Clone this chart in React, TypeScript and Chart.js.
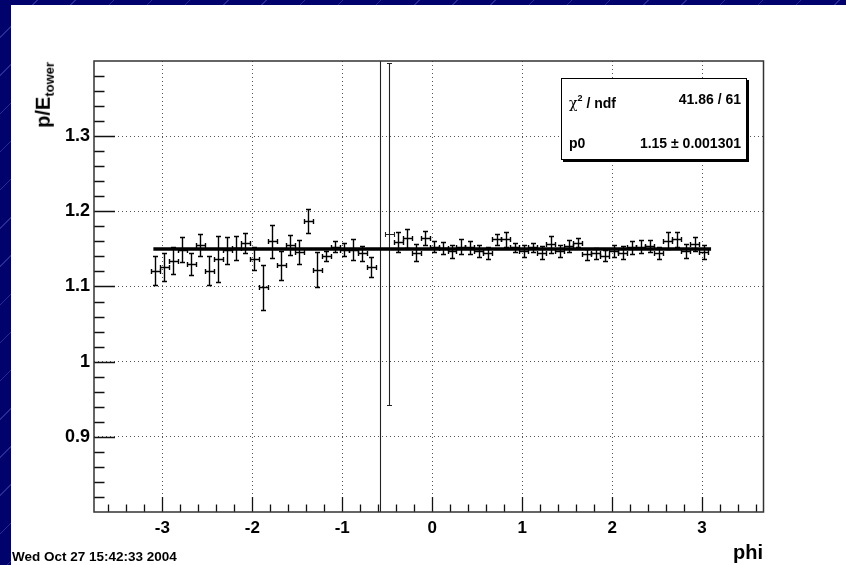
import React, { useEffect, useRef } from "react";
import { Chart, registerables } from "chart.js";

Chart.register(...registerables);

// ---------- data ----------
const phi = [
  -3.08, -2.98, -2.88, -2.78, -2.68, -2.58, -2.48, -2.38, -2.28, -2.18,
  -2.08, -1.98, -1.88, -1.78, -1.68, -1.58, -1.48, -1.38, -1.28, -1.18,
  -1.08, -0.98, -0.88, -0.78, -0.68, -0.58, -0.48, -0.38, -0.28, -0.18,
  -0.08, 0.02, 0.12, 0.22, 0.32, 0.42, 0.52, 0.62, 0.72, 0.82,
  0.92, 1.02, 1.12, 1.22, 1.32, 1.42, 1.52, 1.62, 1.72, 1.82,
  1.92, 2.02, 2.12, 2.22, 2.32, 2.42, 2.52, 2.62, 2.72, 2.82,
  2.92, 3.02,
];
const ratio = [
  1.121, 1.126, 1.134, 1.149, 1.130, 1.155, 1.121, 1.137, 1.148, 1.151,
  1.158, 1.137, 1.099, 1.160, 1.128, 1.155, 1.146, 1.187, 1.122, 1.141,
  1.153, 1.149, 1.149, 1.144, 1.126, 0.5, 1.170, 1.159, 1.164, 1.145,
  1.165, 1.153, 1.151, 1.147, 1.153, 1.152, 1.147, 1.145, 1.163, 1.163,
  1.152, 1.147, 1.152, 1.145, 1.156, 1.147, 1.154, 1.158, 1.143, 1.144,
  1.141, 1.147, 1.145, 1.152, 1.153, 1.154, 1.144, 1.161, 1.163, 1.147,
  1.156, 1.146,
];
const ratioErr = [
  0.019, 0.0186, 0.018, 0.0164, 0.0148, 0.0146, 0.019, 0.0305, 0.018, 0.016,
  0.0128, 0.015, 0.030, 0.0224, 0.019, 0.013, 0.0155, 0.0157, 0.0233, 0.0067,
  0.0076, 0.0085, 0.014, 0.010, 0.0128, 1.5, 0.227, 0.0135, 0.0123, 0.011,
  0.0092, 0.007, 0.008, 0.0085, 0.010, 0.009, 0.0083, 0.008, 0.0072, 0.010,
  0.006, 0.0078, 0.006, 0.009, 0.011, 0.0083, 0.008, 0.006, 0.0074, 0.0074,
  0.0074, 0.008, 0.0085, 0.009, 0.009, 0.008, 0.008, 0.0117, 0.010, 0.0094,
  0.0094, 0.009,
];
const binHalfWidth = 0.05;
const fitValue = 1.15;
const fitRange = [-3.1, 3.1];
const xTicks = [-3, -2, -1, 0, 1, 2, 3];
const yTicks = [0.9, 1.0, 1.1, 1.2, 1.3];
const xRange = [-3.76, 3.683];
const yRange = [0.8, 1.4];
const statsRows = [
  ["χ", " / ndf", "41.86 / 61"],
  ["p0", "", "1.15 ± 0.001301"],
];

const W = 846;
const H = 565;
const FONT = "'Liberation Sans', Arial, Helvetica, sans-serif";

const rootPlugin = {
  id: "rootStyle",
  beforeDatasetsDraw(chart: any) {
    const { ctx, chartArea: a, scales } = chart;
    const x = scales.x;
    const y = scales.y;
    ctx.save();
    ctx.beginPath();
    ctx.rect(a.left, a.top, a.right - a.left, a.bottom - a.top);
    ctx.clip();
    for (let i = 0; i < phi.length; i++) {
      const big = ratioErr[i] > 0.1;
      const px = Math.round(x.getPixelForValue(phi[i])) + 0.5;
      const py = Math.round(y.getPixelForValue(ratio[i])) + 0.5;
      const yt = Math.round(y.getPixelForValue(ratio[i] + ratioErr[i])) + 0.5;
      const yb = Math.round(y.getPixelForValue(ratio[i] - ratioErr[i])) + 0.5;
      const xl = Math.round(x.getPixelForValue(phi[i] - binHalfWidth)) + 0.5;
      const xr = Math.round(x.getPixelForValue(phi[i] + binHalfWidth)) + 0.5;
      ctx.strokeStyle = big ? "#222" : "#000";
      ctx.lineWidth = big ? 1.1 : 1.4;
      ctx.beginPath();
      ctx.moveTo(px, yt);
      ctx.lineTo(px, yb);
      ctx.moveTo(px - 2.5, yt);
      ctx.lineTo(px + 2.5, yt);
      ctx.moveTo(px - 2.5, yb);
      ctx.lineTo(px + 2.5, yb);
      ctx.moveTo(xl, py);
      ctx.lineTo(xr, py);
      ctx.moveTo(xl, py - 2.5);
      ctx.lineTo(xl, py + 2.5);
      ctx.moveTo(xr, py - 2.5);
      ctx.lineTo(xr, py + 2.5);
      ctx.stroke();
    }
    ctx.restore();
  },
  afterDraw(chart: any) {
    const { ctx, chartArea: a, scales } = chart;
    const x = scales.x;
    const y = scales.y;
    ctx.save();
    ctx.strokeStyle = "#111";
    ctx.lineWidth = 1.3;
    ctx.beginPath();
    // y ticks (inward from left frame)
    for (let k = 1; k < 30; k++) {
      const v = yRange[0] + k * 0.02;
      const major = k % 5 === 0;
      const py = Math.round(y.getPixelForValue(v)) + 0.5;
      ctx.moveTo(a.left, py);
      ctx.lineTo(a.left + (major ? 21 : 10.5), py);
    }
    // x ticks (inward from bottom frame)
    for (let k = -18; k <= 18; k++) {
      const v = k * 0.2;
      const major = k % 5 === 0;
      const px = Math.round(x.getPixelForValue(v)) + 0.5;
      ctx.moveTo(px, a.bottom);
      ctx.lineTo(px, a.bottom - (major ? 15 : 7.5));
    }
    ctx.stroke();
    ctx.strokeStyle = "#333";
    ctx.lineWidth = 1.5;
    ctx.strokeRect(a.left, a.top, a.right - a.left, a.bottom - a.top);
    ctx.restore();
  },
};

export default function App() {
  const ref = useRef<HTMLCanvasElement | null>(null);

  useEffect(() => {
    if (!ref.current) return;
    const chart = new Chart(ref.current, {
      type: "scatter",
      data: {
        datasets: [
          {
            label: "p/E",
            data: phi.map((p, i) => ({ x: p, y: ratio[i] })),
            pointRadius: 0,
            showLine: false,
          },
          {
            label: "fit",
            data: [
              { x: fitRange[0], y: fitValue },
              { x: fitRange[1], y: fitValue },
            ],
            showLine: true,
            borderColor: "#000",
            borderWidth: 3.5,
            pointRadius: 0,
          },
        ],
      },
      options: {
        animation: false,
        responsive: false,
        events: [],
        layout: { padding: { left: 0, top: 61, right: W - 763.5, bottom: 0 } },
        plugins: { legend: { display: false }, tooltip: { enabled: false } },
        scales: {
          x: {
            type: "linear",
            min: xRange[0],
            max: xRange[1],
            afterBuildTicks: (s: any) => {
              s.ticks = xTicks.map((v) => ({ value: v }));
            },
            afterFit: (s: any) => {
              s.height = H - 512;
            },
            grid: { color: "#555", lineWidth: 1, drawTicks: false },
            border: { display: false, dash: [1, 3] },
            ticks: {
              padding: 6,
              color: "#000",
              maxRotation: 0,
              autoSkip: false,
              font: { family: FONT, size: 17, weight: "bold" },
              callback: (v: any) => String(v),
            },
          },
          y: {
            type: "linear",
            min: yRange[0],
            max: yRange[1],
            afterBuildTicks: (s: any) => {
              s.ticks = yTicks.map((v) => ({ value: v }));
            },
            afterFit: (s: any) => {
              s.width = 94;
            },
            grid: { color: "#555", lineWidth: 1, drawTicks: false },
            border: { display: false, dash: [1, 3] },
            ticks: {
              padding: 4,
              color: "#000",
              autoSkip: false,
              font: { family: FONT, size: 18, weight: "bold" },
              callback: (v: any) => String(Math.round(Number(v) * 10) / 10),
            },
          },
        },
      },
      plugins: [rootPlugin],
    } as any);
    return () => chart.destroy();
  }, []);

  return (
    <div
      style={{
        position: "absolute",
        left: 0,
        top: 0,
        width: W,
        height: H,
        overflow: "hidden",
        background:
          "repeating-linear-gradient(135deg, #02026c 0px, #02026c 26px, #2a2a96 26px, #2a2a96 27px)",
        fontFamily: FONT,
      }}
    >
      <div
        style={{
          position: "absolute",
          left: 11,
          top: 5,
          right: 0,
          bottom: 0,
          background: "#fff",
        }}
      />
      <canvas
        ref={ref}
        width={W}
        height={H}
        style={{ position: "absolute", left: 0, top: 0, width: W, height: H }}
      />
      {/* y axis title */}
      <div
        style={{
          position: "absolute",
          right: W - 33,
          top: 62,
          transform: "rotate(-90deg)",
          transformOrigin: "100% 0",
          whiteSpace: "nowrap",
          fontWeight: "bold",
          fontSize: 20,
          lineHeight: "20px",
          color: "#000",
        }}
      >
        p/E
        <span style={{ fontSize: 13, position: "relative", top: 4 }}>tower</span>
      </div>
      {/* x axis title */}
      <div
        style={{
          position: "absolute",
          right: W - 763,
          top: 541,
          fontWeight: "bold",
          fontSize: 20,
          lineHeight: "22px",
          color: "#000",
        }}
      >
        phi
      </div>
      {/* date stamp */}
      <div
        style={{
          position: "absolute",
          left: 12,
          top: 549,
          fontWeight: "bold",
          fontSize: 13.5,
          lineHeight: "15px",
          color: "#000",
          whiteSpace: "nowrap",
        }}
      >
        Wed Oct 27 15:42:33 2004
      </div>
      {/* stats box */}
      <div
        style={{
          position: "absolute",
          left: 561,
          top: 78,
          width: 184,
          height: 80,
          border: "1px solid #000",
          background: "#fff",
          boxShadow: "2px 2px 0 #000",
        }}
      >
        {statsRows.map((r, i) => (
          <div
            key={i}
            style={{
              position: "absolute",
              left: 7,
              right: 5,
              top: 11 + i * 43.5,
              height: 18,
              lineHeight: "18px",
              fontSize: 14,
              fontWeight: "bold",
              color: "#000",
              display: "flex",
              justifyContent: "space-between",
              whiteSpace: "nowrap",
            }}
          >
            <span>
              {i === 0 ? (
                <>
                  <span style={{ fontWeight: "normal", fontFamily: "'DejaVu Serif', serif" }}>{r[0]}</span>
                  <sup style={{ fontSize: 9, position: "relative", top: -1 }}>2</sup>
                  {r[1]}
                </>
              ) : (
                r[0]
              )}
            </span>
            <span>{r[2]}</span>
          </div>
        ))}
      </div>
    </div>
  );
}
